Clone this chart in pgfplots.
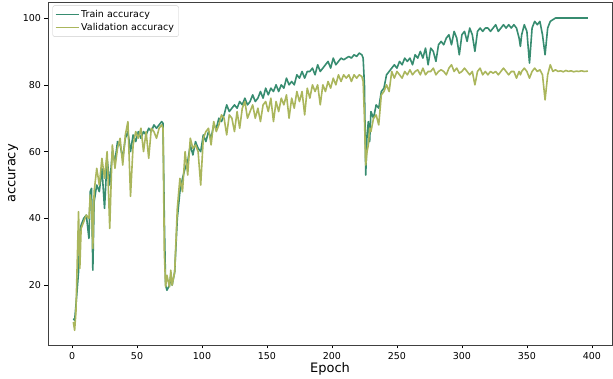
\documentclass[border=0pt]{standalone}
\usepackage{pgfplots}
\pgfplotsset{compat=1.18}
\usepackage{fontspec}
\setmainfont{DejaVu Sans}
\definecolor{trainc}{RGB}{55,140,112}
\definecolor{valc}{RGB}{170,182,92}
\begin{document}
\begin{tikzpicture}
\begin{axis}[name=ax, scale only axis, width=564pt, height=343pt,
  xmin=-18.5, xmax=415.5, ymin=2.1, ymax=104.8,
  xtick={0,50,...,400}, ytick={20,40,60,80,100},
  tick align=outside, tick pos=left, major tick length=3.5pt,
  tick style={black, line width=0.6pt},
  axis line style={black!75, line width=0.8pt},
  /pgf/number format/assume math mode=true,
  ticklabel style={font=\fontsize{9.5}{11}\selectfont},
  xlabel={Epoch}, ylabel={accuracy},
  label style={font=\fontsize{13}{15}\selectfont},
  xlabel style={yshift=3pt}, ylabel style={yshift=-2pt},
  legend style={at={(0.008,0.99)}, anchor=north west, draw=black!20, rounded corners=2pt,
    font=\fontsize{9.5}{11.5}\selectfont, row sep=0.5pt, inner sep=2.5pt},
  legend cell align=left,
  legend image code/.code={\draw[#1, line width=1pt] (0pt,0pt) -- (23pt,0pt);},
  every axis plot/.append style={line width=1.6pt, line join=round},
]
\addplot[trainc] coordinates {
(1,10)(2,9.5)(3,14)(5,24)(6,36)(7,38)(9,40)(11,41)(13,34)(14,48)(15,49)(16,24.5)(17,45)(19,50)(21,48)(23,55)(25,43)(27,58)(29,50)(31,60)(33,57)(35,63)(37,62)(39,58)(41,64)(43,66)(45,60)(47,65)(49,63)(51,66)(53,64)(55,66)(57,65)(59,67)(61,66)(63,68)(65,67)(67,68)(69,69)(70,68.5)(71,40)(72,20)(73,18.5)(75,20)(76,23)(77,20)(79,24)(81,40)(83,48)(85,52)(87,55)(89,57)(91,62)(93,59)(95,63)(97,61)(99,60)(101,65)(103,63)(105,66)(107,64)(109,68)(111,67)(113,70)(115,69)(117,71)(119,74)(121,72)(123,73)(125,74)(127,73)(129,75)(131,74)(133,76)(135,74)(137,75)(139,77)(141,75)(143,76)(145,78)(147,76)(149,79)(151,77)(153,79)(155,78)(157,80)(159,78)(161,80)(163,79)(165,82)(167,80)(169,81)(171,80)(173,83)(175,82)(177,84)(179,82)(181,84)(183,84)(185,85)(187,83)(189,86)(191,84)(193,85)(195,86)(197,87)(199,85)(201,88)(203,86)(205,87)(207,88)(209,87.5)(211,88)(213,88.5)(215,88)(217,89)(219,88.5)(221,89.5)(223,89)(224,88)(225,80)(226,53)(227,65)(228,69)(229,63)(230,72)(232,70)(234,74)(236,73)(238,78)(240,79)(242,83)(244,84)(246,85)(248,86)(250,85)(252,87)(254,86)(256,88)(258,87)(260,88)(262,86)(264,89)(266,88)(268,90)(270,88)(272,91)(274,86)(276,91)(278,90)(280,87)(282,92)(284,93)(286,92)(288,94)(290,95)(292,92)(294,96)(296,94)(298,89)(300,95)(302,96)(304,93)(306,97)(308,95)(310,90)(312,96)(314,97)(316,96)(318,97)(320,97)(322,96)(324,97)(326,98)(328,96)(330,97)(332,98)(334,97)(336,98)(338,97)(340,98)(342,97)(344,94)(345,91.5)(346,95)(348,98)(350,96)(352,86.5)(354,97)(356,99)(358,98)(360,99)(362,95)(364,89)(366,97)(368,99)(370,99.5)(372,100)(374,100)(380,100)(390,100)(397,100)
};
\addlegendentry{Train accuracy}
\addplot[valc] coordinates {
(1,9)(2,6.5)(3,12)(5,42)(6,25)(7,37)(9,39)(11,41)(13,40)(14,47)(15,44)(16,31)(17,48)(19,55)(21,50)(23,58)(25,52)(27,60)(29,37)(31,62)(33,55)(35,61)(37,64)(39,56)(41,65)(43,69)(45,46.6)(47,62)(49,66)(51,64)(53,67)(55,60)(57,66)(59,58)(61,67)(63,66)(65,64)(67,67)(69,68)(70,67)(71,30)(72,19.5)(73,23)(75,19.5)(76,24.5)(77,20)(79,24)(81,43)(83,52)(85,48)(87,60)(89,53)(91,64)(93,61)(95,62)(97,60)(99,50)(101,64)(103,66)(105,67)(107,62)(109,69)(111,66)(113,68)(115,71)(117,70)(119,65)(121,71)(123,70)(125,66)(127,72)(129,67)(131,73)(133,75)(135,70)(137,72)(139,74)(141,70)(143,73)(145,69)(147,74)(149,75)(151,72)(153,76)(155,69)(157,75)(159,72)(161,76)(163,74)(165,77)(167,70)(169,76)(171,73)(173,78)(175,75)(177,78)(179,71)(181,79)(183,76)(185,80)(187,78)(189,80)(191,74)(193,80)(195,78)(197,81)(199,79)(201,82)(203,80)(205,83)(207,81)(209,83)(211,82)(213,83)(215,81)(217,83)(219,82)(221,83)(223,82.5)(224,81)(225,70)(226,56)(227,60)(228,62)(229,67)(230,66)(232,70)(234,71)(236,68)(238,77)(240,78)(242,80)(244,78)(246,84)(248,82)(250,84)(252,83)(254,82)(256,84)(258,83)(260,84.5)(262,83)(264,84)(266,84.5)(268,83)(270,85)(272,83)(274,84)(276,84)(278,85)(280,83)(282,84)(284,84.5)(286,84)(288,83)(290,85)(292,86)(294,84)(296,85)(298,83.5)(300,84)(302,85)(304,84)(306,83)(308,84)(310,80)(312,84)(314,85)(316,83)(318,84)(320,83)(322,84)(324,83.5)(326,84)(328,83)(330,84)(332,85)(334,84)(336,83)(338,84)(340,84)(342,82)(344,84)(345,83)(346,84)(348,85)(350,84)(352,82)(354,84)(356,85)(358,84)(360,84.5)(362,83)(364,75.5)(366,83)(368,86)(370,84)(372,84.5)(374,84)(376,84.2)(378,83.9)(380,84.3)(382,84)(384,84.2)(386,83.9)(388,84.1)(390,84)(392,84.2)(394,84)(397,84.1)
};
\addlegendentry{Validation accuracy}
\end{axis}
\path ([xshift=-48pt,yshift=-32pt]ax.south west) rectangle ([xshift=1pt,yshift=2pt]ax.north east);
\end{tikzpicture}
\end{document}
